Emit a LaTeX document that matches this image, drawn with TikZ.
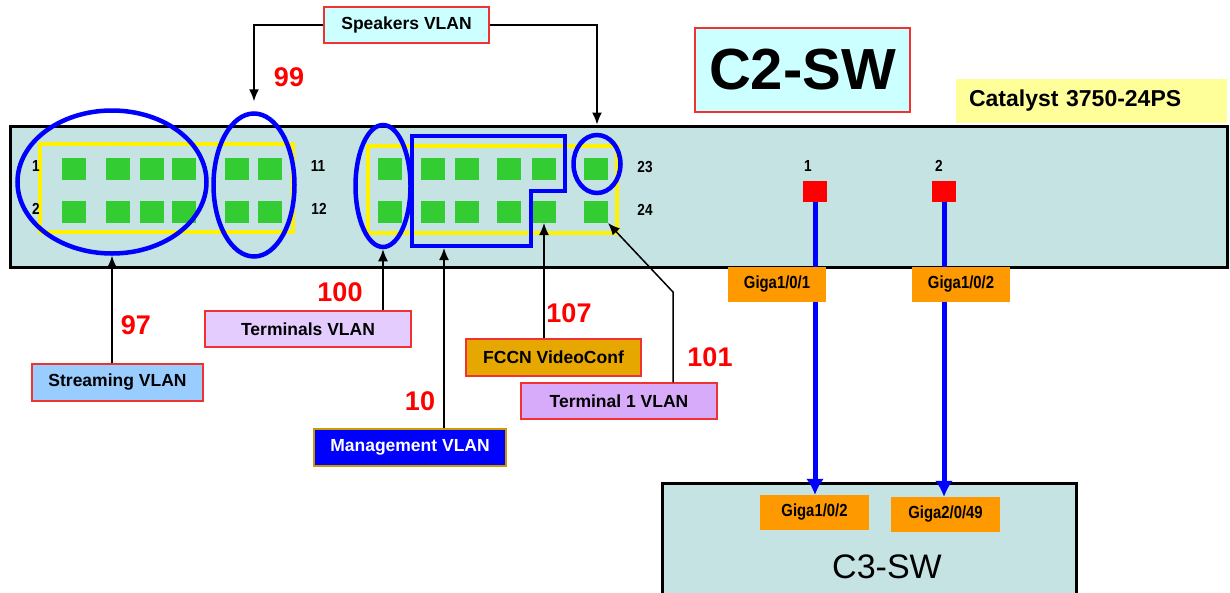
\documentclass[tikz,border=0pt]{standalone}
\usepackage{fontspec}
\setmainfont{Liberation Sans}
\newfontfamily\narrowsf[FakeStretch=0.85]{Liberation Sans}
\usetikzlibrary{positioning,shapes.geometric,arrows.meta}
\definecolor{swfill}{RGB}{197,227,227}
\definecolor{portgreen}{RGB}{51,204,51}
\definecolor{lightcyan}{RGB}{204,255,255}
\definecolor{catyellow}{RGB}{255,255,153}
\definecolor{streamblue}{RGB}{153,204,255}
\definecolor{termlilac}{RGB}{229,204,255}
\definecolor{term1lilac}{RGB}{216,170,250}
\definecolor{fccngold}{RGB}{230,168,0}
\definecolor{gigaorange}{RGB}{255,153,0}
\definecolor{boxred}{RGB}{240,50,50}
\definecolor{mgmtedge}{RGB}{204,153,0}

\begin{document}
\begin{tikzpicture}[x=1pt,y=-1pt,
  font=\bfseries\fontsize{17.5}{20}\selectfont,
  switchbox/.style={draw=black,line width=3pt,fill=swfill,inner sep=0pt},
  grouprect/.style={draw=yellow,line width=4pt},
  port/.style={fill=portgreen,minimum width=24pt,minimum height=22pt,inner sep=0pt,outer sep=0pt},
  uport/.style={fill=red,minimum width=24pt,minimum height=21pt,inner sep=0pt,outer sep=0pt},
  grpline/.style={draw=blue,line width=4.5pt},
  grpell/.style={ellipse,grpline,inner sep=0pt},
  vlanbox/.style={draw=boxred,line width=1.2pt,inner sep=0pt},
  gigabox/.style={fill=gigaorange,inner sep=0pt,minimum width=98pt,minimum height=35pt,
    font=\narrowsf\bfseries\fontsize{17.5}{20}\selectfont},
  portnum/.style={font=\narrowsf\bfseries\fontsize{16}{18}\selectfont},
  vlanid/.style={text=red,font=\bfseries\fontsize{27}{30}\selectfont},
  tag/.style={draw=black,line width=1.5pt,-{Latex[length=12pt,width=10pt]}},
  uplink/.style={draw=blue,line width=5pt,-{Latex[length=16pt,width=18pt]}}]
\useasboundingbox (0,0) rectangle (1230,592);
\clip (0,0) rectangle (1230,592);

\node[switchbox,minimum width=1217pt,minimum height=141pt] (sw) at (618.5,196.5) {};
\draw[grouprect] (40,144) rectangle (293,232);
\draw[grouprect] (368,146) rectangle (617,233);
\foreach \cx [count=\i] in {74,118,152,184,237,270,390,433,467,509,544,596} {
  \pgfmathtruncatemacro\portA{2*\i-1}
  \pgfmathtruncatemacro\portB{2*\i}
  \node[port] (p\portA) at (\cx,169) {};
  \node[port] (p\portB) at (\cx,212) {};
}
\node[portnum] (n1) at (36,166) {1};
\node[portnum] (n2) at (36,209) {2};
\node[portnum] (n11) at (318,166) {11};
\node[portnum] (n12) at (319,209) {12};
\node[portnum] (n23) at (645,167) {23};
\node[portnum] (n24) at (645,210) {24};

\node[grpell,minimum width=189pt,minimum height=143pt] (grpA) at (112,182) {};
\node[grpell,minimum width=81pt,minimum height=143pt] (grpB) at (254,185) {};
\node[grpell,minimum width=55pt,minimum height=122pt] (grpC) at (383,186) {};
\node[grpell,minimum width=47pt,minimum height=58pt] (grpD) at (597,164) {};
\draw[grpline] (412,136) -- (565,136) -- (565,191) -- (531,191) -- (531,246) -- (412,246) -- cycle;
\coordinate (mgmtgrp) at (444,248);

\node[uport] (u1) at (815,191.5) {};
\node[uport] (u2) at (944,191.5) {};
\node[portnum] (un1) at (808,166) {1};
\node[portnum] (un2) at (939,166) {2};

\node[vlanbox,fill=lightcyan,minimum width=215pt,minimum height=84pt,
  font=\bfseries\fontsize{58}{60}\selectfont] (c2) at (802.5,70) {C2-SW};
\node[fill=catyellow,inner sep=0pt,inner xsep=13pt,text width=245pt,minimum height=44pt,
  align=left,font=\bfseries\fontsize{23}{26}\selectfont] (cat) at (1091.5,101) {Catalyst 3750-24PS};

\node[vlanbox,fill=lightcyan,minimum width=165pt,minimum height=36pt] (speakers) at (406.5,25) {Speakers VLAN};
\node[vlanbox,fill=streamblue,minimum width=171pt,minimum height=37pt] (streaming) at (117.5,382.5) {Streaming VLAN};
\node[vlanbox,fill=termlilac,minimum width=206pt,minimum height=36pt] (terminals) at (308,329) {Terminals VLAN};
\node[vlanbox,draw=mgmtedge,fill=blue,text=white,minimum width=192pt,minimum height=37pt] (mgmt) at (410,447.5) {Management VLAN};
\node[vlanbox,fill=fccngold,minimum width=175pt,minimum height=37pt] (fccn) at (553.5,357.5) {FCCN VideoConf};
\node[vlanbox,fill=term1lilac,minimum width=196pt,minimum height=36pt] (term1) at (619,401) {Terminal 1 VLAN};

\node[vlanid] (v99) at (289,77) {99};
\node[vlanid] (v97) at (136,325) {97};
\node[vlanid] (v100) at (340,292) {100};
\node[vlanid] (v10) at (420,401) {10};
\node[vlanid] (v107) at (569,313) {107};
\node[vlanid] (v101) at (710,357) {101};

\draw[tag] (speakers.west) -| ([yshift=10pt]grpB.north);
\draw[tag] (speakers.east) -| (grpD.north |- sw.north);
\draw[tag] (streaming.north -| grpA.south) -- (grpA.south);
\draw[tag] (terminals.north -| grpC.south) -- (grpC.south);
\draw[tag] (mgmt.north -| mgmtgrp) -- (mgmtgrp);
\draw[tag] (fccn.north -| p22.south) -- (p22.south);
\coordinate (bend) at (673,292);
\draw[tag] (term1.north -| bend) -- (bend) -- (p24.south east);

\node[draw=black,line width=3pt,fill=swfill,minimum width=414pt,minimum height=140pt,inner sep=0pt] (c3) at (869,553) {};
\node[gigabox,minimum width=109pt] (c3g1) at (814.5,512.5) {Giga1/0/2};
\node[gigabox,minimum width=109pt] (c3g2) at (945.5,514.5) {Giga2/0/49};
\node[font=\mdseries\fontsize{34}{36}\selectfont] (c3name) at (887,567) {C3-SW};

\draw[uplink] (u1.south) -- (u1.south |- c3g1.north);
\draw[uplink] (u2.south) -- (u2.south |- c3g2.north);
\node[gigabox] (g1) at (777,284.5) {Giga1/0/1};
\node[gigabox] (g2) at (961,284.5) {Giga1/0/2};
\end{tikzpicture}
\end{document}
